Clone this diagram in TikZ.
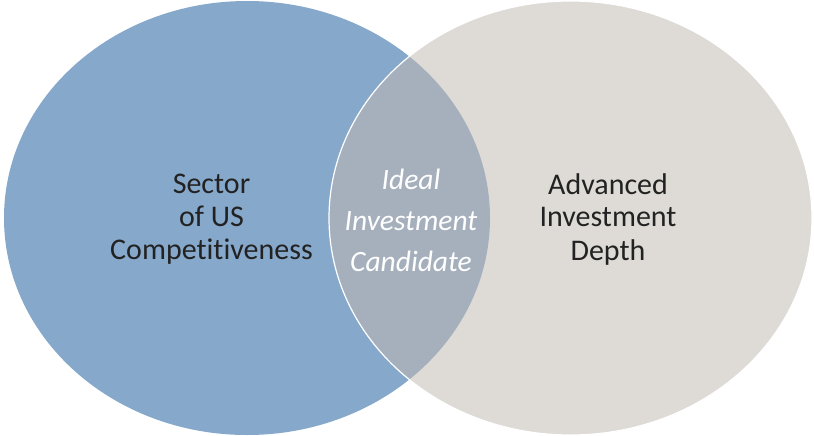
\documentclass[tikz,border=0pt]{standalone}
\usepackage{fontspec}
\setmainfont[Ligatures={NoCommon}]{Carlito}
\definecolor{leftblue}{HTML}{86A8CB}
\definecolor{rightgrey}{HTML}{DEDBD7}
\definecolor{overlapc}{HTML}{A6B0BD}
\definecolor{txtdark}{HTML}{222222}
\begin{document}
\begin{tikzpicture}[x=1pt,y=-1pt,
  lbl/.style={align=center,font=\fontsize{30}{33}\selectfont,text=txtdark,inner sep=0pt},
  mid/.style={align=center,font=\fontsize{29.5}{41}\selectfont\itshape,text=white,inner sep=0pt}]
\useasboundingbox (0,0) rectangle (814,436);
\fill[leftblue] (247,218) ellipse [x radius=243, y radius=217];
\fill[rightgrey] (570.5,218) ellipse [x radius=241.5, y radius=217];
\begin{scope}
  \clip (247,218) ellipse [x radius=243, y radius=217];
  \fill[overlapc] (570.5,218) ellipse [x radius=241.5, y radius=217];
\end{scope}
\draw[white,line width=1.2pt] (570.5,218) ellipse [x radius=241.5, y radius=217];
\node[lbl] (left) at (211.5,219) {Sector\\of US\\Competitiveness};
\node[lbl] (right) at (608,219) {Advanced\\Investment\\Depth};
\node[mid] (center) at (411,220) {Ideal\\Investment\\Candidate};
\end{tikzpicture}
\end{document}
